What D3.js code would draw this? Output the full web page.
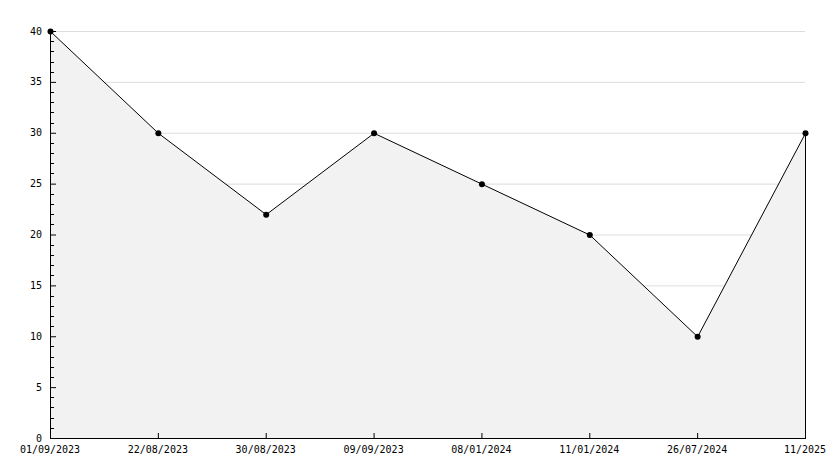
<!DOCTYPE html>
<html><head><meta charset="utf-8">
<script src="https://cdn.jsdelivr.net/npm/d3@7"></script>
<style>body{margin:0;background:#fff}svg{display:block}text{font-family:"DejaVu Sans Mono",monospace;font-size:10px;fill:#000}</style>
</head><body>
<script>
const categories = ["01/09/2023","22/08/2023","30/08/2023","09/09/2023","08/01/2024","11/01/2024","26/07/2024","11/2025"];
const values = [40,30,22,30,25,20,10,30];
const yMajorTicks = [0,5,10,15,20,25,30,35,40];
const yMinorTicks = d3.range(0,41).filter(v=>v%5!==0);

const W=834,H=468;
const svg=d3.select("body").append("svg").attr("width",W).attr("height",H);
const x=d3.scalePoint().domain(categories).range([50,805]);
const y=d3.scaleLinear().domain([0,40]).range([438,31]);

// grid
svg.append("g").selectAll("line").data(yMajorTicks.filter(v=>v>0)).join("line")
  .attr("x1",50).attr("x2",805).attr("y1",d=>y(d)+0.5).attr("y2",d=>y(d)+0.5)
  .attr("stroke","#dddddd").attr("stroke-width",1);

const pts=categories.map((c,i)=>[x(c),y(values[i])]);
const area=d3.area().x(d=>d[0]+0.5).y0(y(0)+0.5).y1(d=>d[1]+0.5);
svg.append("path").datum(pts).attr("d",area).attr("fill","#f2f2f2").attr("stroke","none");
// right edge
svg.append("line").attr("x1",x(categories[categories.length-1])+0.5).attr("x2",x(categories[categories.length-1])+0.5)
  .attr("y1",y(values[values.length-1])).attr("y2",y(0)).attr("stroke","#000");
const line=d3.line().x(d=>d[0]+0.5).y(d=>d[1]+0.5);
svg.append("path").datum(pts).attr("d",line).attr("fill","none").attr("stroke","#000").attr("stroke-width",1);

// axes
const gy=svg.append("g");
gy.append("line").attr("x1",50.5).attr("x2",50.5).attr("y1",31).attr("y2",439).attr("stroke","#000");
gy.selectAll(".maj").data(yMajorTicks).join("line").attr("class","maj")
  .attr("x1",50).attr("x2",56).attr("y1",d=>y(d)+0.5).attr("y2",d=>y(d)+0.5).attr("stroke","#000");
gy.selectAll(".min").data(yMinorTicks).join("line").attr("class","min")
  .attr("x1",50).attr("x2",54).attr("y1",d=>Math.round(y(d))+0.5).attr("y2",d=>Math.round(y(d))+0.5).attr("stroke","#000");
gy.selectAll("text").data(yMajorTicks).join("text")
  .attr("x",42).attr("y",d=>y(d)).attr("dy","0.35em").attr("text-anchor","end").text(d=>d);

const gx=svg.append("g");
gx.append("line").attr("x1",50).attr("x2",806).attr("y1",438.5).attr("y2",438.5).attr("stroke","#000");
gx.selectAll(".t").data(categories).join("line").attr("class","t")
  .attr("x1",d=>x(d)+0.5).attr("x2",d=>x(d)+0.5).attr("y1",433).attr("y2",438).attr("stroke","#000");
gx.selectAll("text").data(categories).join("text")
  .attr("x",d=>x(d)).attr("y",453).attr("text-anchor","middle").text(d=>d);

// markers
svg.append("g").selectAll("circle").data(pts).join("circle")
  .attr("cx",d=>d[0]+0.5).attr("cy",d=>d[1]+0.5).attr("r",3).attr("fill","#000");
</script>
</body></html>
